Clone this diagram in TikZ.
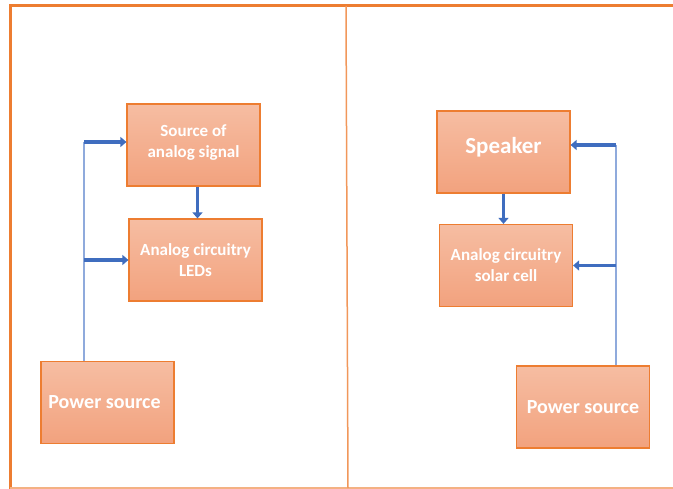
\documentclass[tikz,border=0pt]{standalone}
\usepackage{fontspec}
\setmainfont{Carlito}
\usetikzlibrary{arrows.meta,positioning}
\definecolor{boxedge}{HTML}{ED7D31}
\definecolor{boxtop}{HTML}{F6BDA2}
\definecolor{boxbot}{HTML}{F2A27E}
\definecolor{wirecol}{HTML}{8FAADC}
\definecolor{feedcol}{HTML}{3F6DBF}
\tikzset{
  block/.style={draw=boxedge,line width=1.2pt,top color=boxtop,bottom color=boxbot,
    minimum width=133pt,minimum height=82pt,text=white,align=center,
    font=\fontsize{#1}{21}\selectfont\bfseries},
  block/.default=17,
  feed/.style={draw=feedcol,line width=3.5pt,-{Triangle[width=10pt,length=6pt]}},
  wire/.style={draw=wirecol,line width=2pt},
}

\begin{document}
\begin{tikzpicture}[x=1pt,y=-1pt]
    \useasboundingbox (0,0) rectangle (673,489);
    % panel frame
    \draw[boxedge,line width=3pt] (10,489) -- (10,6) -- (673,6);
    \draw[boxedge!60,line width=1.5pt] (10,488) -- (673,488);
    \draw[boxedge!80,line width=1.5pt] (346,6) -- (348,488);

    % left panel
    \node[block] (source) at (193.5,145) {Source of\\analog signal\\[-14pt]};
    \node[block] (leds) at (195.5,260) {Analog circuitry\\LEDs};
    \node[block=20] (powerL) at (107.5,402.5) {Power source\hspace{6pt}};
    \coordinate (busL) at (84,142);% top of the supply rail
    \draw[wire] (powerL.north -| busL) -- (busL);
    \draw[feed] (busL) -- (busL -| source.west);
    \draw[feed] (busL |- leds) -- (leds.west);
    \draw[feed] ([xshift=4pt]source.south) -- ([xshift=4pt]source.south |- leds.north);

    % right panel
    \node[block=23] (speaker) at (503.5,152) {Speaker\hspace{8pt}\\[-8pt]};
    \node[block] (solar) at (506,265.5) {Analog circuitry\\solar cell};
    \node[block=20] (powerR) at (583,407) {Power source};
    \coordinate (busR) at (616,145);% top of the supply rail
    \draw[wire] (powerR.north -| busR) -- (busR);
    \draw[feed] (busR) -- (busR -| speaker.east);
    \draw[feed] (busR |- solar) -- (solar.east);
    \draw[feed] (speaker.south) -- (speaker.south |- solar.north);
\end{tikzpicture}
\end{document}
